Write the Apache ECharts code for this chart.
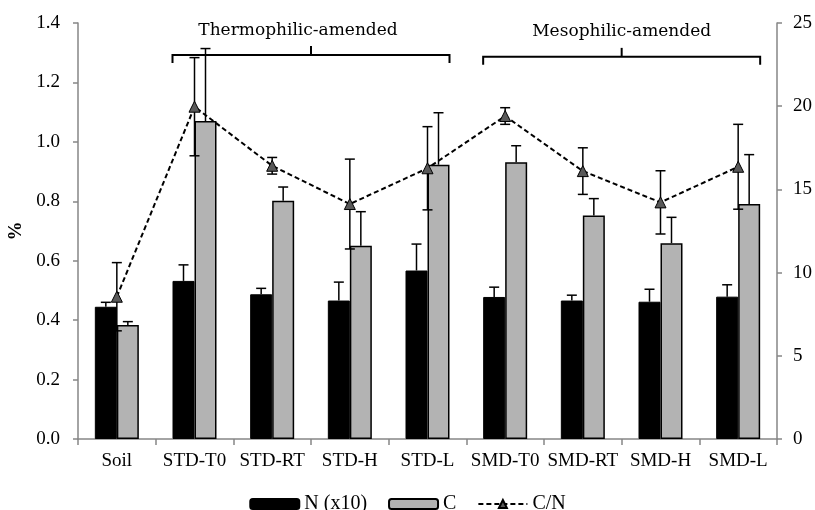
<!DOCTYPE html>
<html>
<head>
<meta charset="utf-8">
<script src="https://cdn.jsdelivr.net/npm/echarts@6/dist/echarts.min.js"></script>
<style>
  html, body { margin: 0; padding: 0; background: #fff; }
  #chart { width: 815px; height: 510px; }
</style>
</head>
<body>
<div id="chart"></div>
<script>
// 样品
var categories = ["Soil", "STD-T0", "STD-RT", "STD-H", "STD-L", "SMD-T0", "SMD-RT", "SMD-H", "SMD-L"];
// N (x10), %
var nValues = [0.445, 0.532, 0.487, 0.466, 0.567, 0.478, 0.466, 0.462, 0.479];
var nErr = [0.015, 0.054, 0.020, 0.062, 0.089, 0.033, 0.018, 0.042, 0.040];
// C, %
var cValues = [0.384, 1.070, 0.802, 0.650, 0.923, 0.931, 0.752, 0.659, 0.791];
var cErr = [0.011, 0.244, 0.046, 0.115, 0.175, 0.056, 0.057, 0.087, 0.166];
// C/N 比值（右轴）
var cnValues = [8.55, 19.97, 16.42, 14.12, 16.27, 19.41, 16.10, 14.22, 16.36];
var cnErr = [2.05, 2.95, 0.50, 2.70, 2.50, 0.50, 1.40, 1.90, 2.55];
// 分组括号：起止类目下标，高度（左轴值）
var groupLabels = ["Thermophilic-amended", "Mesophilic-amended"];
var groupFrom = [1, 5];
var groupTo = [4, 8];
var groupLevel = [1.292, 1.286];

var leftTicks = [0, 0.2, 0.4, 0.6, 0.8, 1.0, 1.2, 1.4];
var rightTicks = [0, 5, 10, 15, 20, 25];

var BAR_W = 22;
var serif = "'Liberation Serif', 'Times New Roman', serif";
var axisGrey = "#868686";
// 括号文字的水平微调
var labelDx = [-13, 0];

var myChart = echarts.init(document.getElementById("chart"));

// 误差线 renderItem，offset 为相对类目中心的水平偏移
function errorBar(offset, both) {
  return function (params, api) {
    var x = api.value(0);
    var v = api.value(1);
    var e = api.value(2);
    var top = api.coord([x, v + e]);
    var bot = api.coord([x, both ? v - e : v]);
    var px = top[0] + offset;
    var cap = 5;
    var style = { stroke: "#000", lineWidth: 1.5 };
    var children = [
      { type: "line", shape: { x1: px, y1: top[1], x2: px, y2: bot[1] }, style: style },
      { type: "line", shape: { x1: px - cap, y1: top[1], x2: px + cap, y2: top[1] }, style: style }
    ];
    if (both) {
      children.push({ type: "line", shape: { x1: px - cap, y1: bot[1], x2: px + cap, y2: bot[1] }, style: style });
    }
    return { type: "group", children: children };
  };
}

function errData(vals, errs) {
  return vals.map(function (v, i) { return [i, v, errs[i]]; });
}

// 分组括号
function bracket(params, api) {
  var i = params.dataIndex;
  var a = api.coord([api.value(0), api.value(2)]);
  var b = api.coord([api.value(1), api.value(2)]);
  var x1 = a[0] - BAR_W, x2 = b[0] + BAR_W, y = a[1];
  var mid = (x1 + x2) / 2;
  var style = { stroke: "#000", lineWidth: 2, fill: null };
  return {
    type: "group",
    children: [
      { type: "polyline", shape: { points: [[x1, y + 8], [x1, y], [x2, y], [x2, y + 8]] }, style: style },
      { type: "line", shape: { x1: mid, y1: y, x2: mid, y2: y - 9 }, style: style },
      {
        type: "text",
        x: mid + labelDx[i], y: y - 25,
        style: {
          text: groupLabels[i],
          fill: "#000",
          font: "17px 'DejaVu Serif', serif",
          align: "center",
          verticalAlign: "middle"
        }
      }
    ]
  };
}

var option = {
  animation: false,
  grid: { left: 78, right: 38, top: 23, bottom: 71, outerBoundsMode: "none", containLabel: false },
  legend: {
    data: ["N (x10)", "C", "C/N"],
    top: 489,
    left: "center",
    itemWidth: 49,
    itemHeight: 10,
    itemGap: 21,
    selectedMode: false,
    textStyle: { fontFamily: serif, fontSize: 20, color: "#000" }
  },
  xAxis: {
    type: "category",
    data: categories,
    axisLine: { lineStyle: { color: axisGrey, width: 1.5 } },
    axisTick: { show: true, length: 6, lineStyle: { color: axisGrey, width: 1.5 } },
    axisLabel: { color: "#000", fontFamily: serif, fontSize: 19, margin: 13, interval: 0 }
  },
  yAxis: [
    {
      type: "value",
      min: leftTicks[0],
      max: leftTicks[leftTicks.length - 1],
      interval: 0.2,
      name: "%",
      nameLocation: "middle",
      nameGap: 49,
      nameTextStyle: { fontFamily: serif, fontSize: 19, fontWeight: "bold", color: "#000" },
      splitLine: { show: false },
      axisLine: { show: true, lineStyle: { color: axisGrey, width: 1.5 } },
      axisTick: { show: true, length: 5, lineStyle: { color: axisGrey, width: 1.5 } },
      axisLabel: {
        color: "#000", fontFamily: serif, fontSize: 19, margin: 18,
        formatter: function (v) { return v.toFixed(1); }
      }
    },
    {
      type: "value",
      min: rightTicks[0],
      max: rightTicks[rightTicks.length - 1],
      interval: 5,
      splitLine: { show: false },
      axisLine: { show: true, lineStyle: { color: axisGrey, width: 1.5 } },
      axisTick: { show: true, length: 5, lineStyle: { color: axisGrey, width: 1.5 } },
      axisLabel: { color: "#000", fontFamily: serif, fontSize: 19, margin: 16 }
    }
  ],
  series: [
    {
      name: "N (x10)",
      type: "bar",
      data: nValues,
      barWidth: BAR_W,
      barGap: "0%",
      itemStyle: { color: "#000", borderColor: "#000", borderWidth: 1 }
    },
    {
      name: "C",
      type: "bar",
      data: cValues,
      barWidth: BAR_W,
      barGap: "0%",
      itemStyle: { color: "#b3b3b3", borderColor: "#000", borderWidth: 1.5 }
    },
    {
      name: "nErr",
      type: "custom",
      renderItem: errorBar(-BAR_W / 2, false),
      data: errData(nValues, nErr),
      z: 3
    },
    {
      name: "cErr",
      type: "custom",
      renderItem: errorBar(BAR_W / 2, false),
      data: errData(cValues, cErr),
      z: 3
    },
    {
      name: "cnErr",
      type: "custom",
      yAxisIndex: 1,
      renderItem: errorBar(0, true),
      data: errData(cnValues, cnErr),
      z: 3
    },
    {
      name: "C/N",
      type: "line",
      yAxisIndex: 1,
      data: cnValues,
      symbol: "triangle",
      symbolSize: 11,
      lineStyle: { color: "#000", width: 2, type: [5, 3] },
      itemStyle: { color: "#595959", borderColor: "#000", borderWidth: 1 },
      z: 4
    },
    {
      name: "groups",
      type: "custom",
      renderItem: bracket,
      data: groupFrom.map(function (f, i) { return [f, groupTo[i], groupLevel[i]]; }),
      z: 5
    }
  ]
};

myChart.setOption(option);
</script>
</body>
</html>
